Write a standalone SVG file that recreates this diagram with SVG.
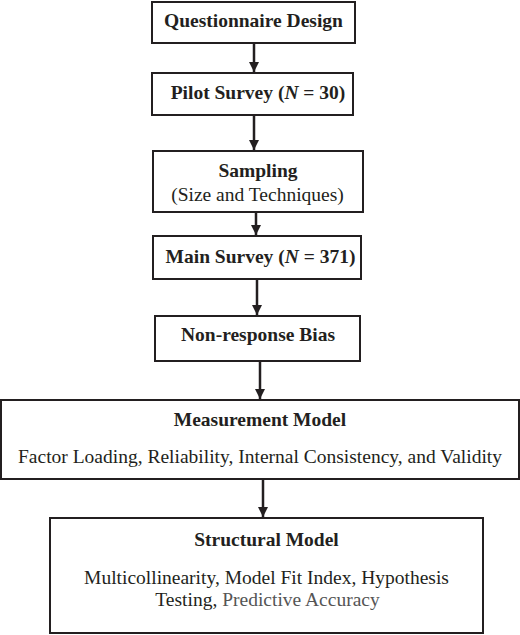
<svg xmlns="http://www.w3.org/2000/svg" width="520" height="635" viewBox="0 0 520 635">
<style>
.box{fill:#fff;stroke:#231f20;stroke-width:2}
.b{font-family:"Liberation Serif","Times New Roman",serif;font-weight:bold;font-size:19.5px;fill:#231f20;text-anchor:middle}
.r{font-family:"Liberation Serif","Times New Roman",serif;font-size:19.5px;fill:#231f20;text-anchor:middle}
.g{fill:#555}
.c{stroke:#231f20;stroke-width:2.5;fill:none}
</style>
<defs>
<marker id="ah" markerWidth="10" markerHeight="10" refX="10" refY="5" orient="auto" markerUnits="userSpaceOnUse" viewBox="0 0 10 10">
<path d="M0,0 L10,5 L0,10 Z" fill="#231f20"/>
</marker>
</defs>
<rect width="520" height="635" fill="#fff"/>
<g id="connectors">
<line class="c" x1="254" y1="43" x2="254" y2="72" marker-end="url(#ah)"/>
<line class="c" x1="254" y1="115" x2="254" y2="150" marker-end="url(#ah)"/>
<line class="c" x1="256" y1="212" x2="256" y2="235" marker-end="url(#ah)"/>
<line class="c" x1="257" y1="279" x2="257" y2="315" marker-end="url(#ah)"/>
<line class="c" x1="260" y1="361" x2="260" y2="399" marker-end="url(#ah)"/>
<line class="c" x1="263" y1="479" x2="263" y2="517" marker-end="url(#ah)"/>
</g>
<g id="n1"><rect class="box" x="152" y="2" width="203" height="41"/><text class="b" x="253.5" y="27">Questionnaire Design</text></g>
<g id="n2"><rect class="box" x="152" y="73" width="201" height="42"/><text class="b" x="258" y="99">Pilot Survey (<tspan font-style="italic">N</tspan> = 30)</text></g>
<g id="n3"><rect class="box" x="153" y="151" width="210" height="61"/><text class="b" x="258" y="177">Sampling</text><text class="r" x="257.5" y="201">(Size and Techniques)</text></g>
<g id="n4"><rect class="box" x="153" y="236" width="208" height="43"/><text class="b" x="260.5" y="263">Main Survey (<tspan font-style="italic">N</tspan> = 371)</text></g>
<g id="n5"><rect class="box" x="155" y="316" width="205" height="45"/><text class="b" x="258" y="341">Non-response Bias</text></g>
<g id="n6"><rect class="box" x="1" y="400" width="518" height="79"/><text class="b" x="260" y="426">Measurement Model</text><text class="r" x="260" y="463">Factor Loading, Reliability, Internal Consistency, and Validity</text></g>
<g id="n7"><rect class="box" x="50" y="518" width="433" height="115"/><text class="b" x="266.5" y="546">Structural Model</text><text class="r" x="266.5" y="584">Multicollinearity, Model Fit Index, Hypothesis</text><text class="r" x="267.5" y="606">Testing, <tspan class="g">Predictive Accuracy</tspan></text></g>
</svg>
